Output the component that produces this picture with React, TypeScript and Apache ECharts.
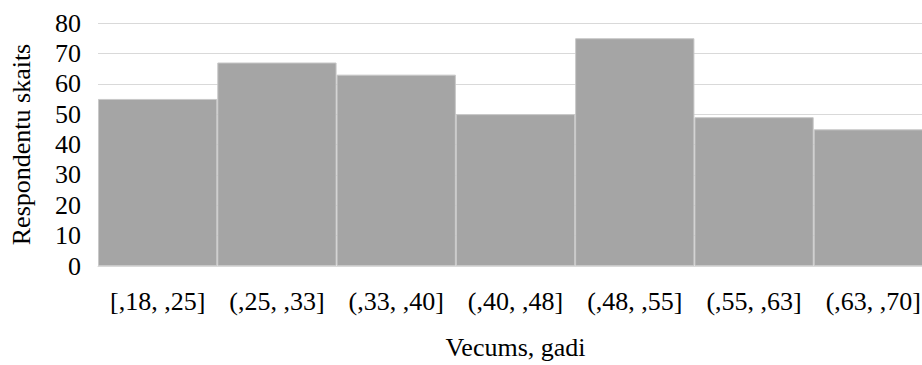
import React, { useEffect, useRef } from "react";
import * as echarts from "echarts";

const categories = ["[,18, ,25]", "(,25, ,33]", "(,33, ,40]", "(,40, ,48]", "(,48, ,55]", "(,55, ,63]", "(,63, ,70]"];
const counts = [55, 67, 63, 50, 75, 49, 45];
const xTitle = "Vecums, gadi";
const yTitle = "Respondentu skaits";

const FONT = '"Liberation Serif", "Times New Roman", serif';
const FS = 26;

export default function App() {
  const ref = useRef<HTMLDivElement>(null);
  useEffect(() => {
    const chart = echarts.init(ref.current!, undefined, { renderer: "svg" });
    chart.setOption({
      animation: false,
      grid: { left: 97, right: 0, top: 23, bottom: 95, containLabel: false },
      xAxis: {
        type: "category",
        data: categories,
        name: xTitle,
        nameLocation: "middle",
        nameGap: 68,
        nameTextStyle: { fontFamily: FONT, fontSize: FS, color: "#000" },
        axisLine: { show: true, lineStyle: { color: "#d9d9d9" } },
        axisTick: { show: false },
        axisLabel: { fontFamily: FONT, fontSize: FS, color: "#000", margin: 22, interval: 0 },
      },
      yAxis: {
        type: "value",
        min: 0,
        max: 80,
        interval: 10,
        name: yTitle,
        nameLocation: "middle",
        nameGap: 64,
        nameTextStyle: { fontFamily: FONT, fontSize: FS, color: "#000" },
        axisLine: { show: false },
        axisTick: { show: false },
        axisLabel: { fontFamily: FONT, fontSize: FS, color: "#000", margin: 17 },
        splitLine: { lineStyle: { color: "#d9d9d9", width: 1 } },
      },
      series: [
        {
          type: "bar",
          data: counts,
          barCategoryGap: "0%",
          itemStyle: { color: "#a5a5a5", borderColor: "#c8c8c8", borderWidth: 1 },
        },
      ],
    });
    return () => chart.dispose();
  }, []);
  return (
    <div style={{ width: 922, height: 365, position: "absolute", left: 0, top: 0, overflow: "hidden" }}>
      <div ref={ref} style={{ width: 933, height: 365 }} />
    </div>
  );
}
